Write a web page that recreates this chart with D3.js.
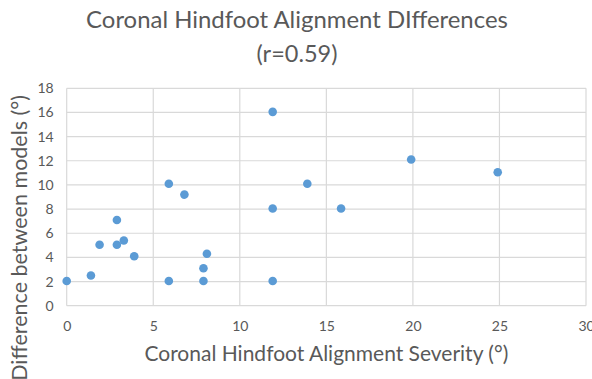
<!DOCTYPE html>
<html>
<head>
<meta charset="utf-8">
<script src="https://cdn.jsdelivr.net/npm/d3@7"></script>
<style>
  html, body { margin: 0; padding: 0; background: #fff; }
  svg { display: block; font-family: "Lato", "Open Sans", sans-serif; }
</style>
</head>
<body>
<svg id="chart" width="592" height="379"></svg>
<script>
// Coronal hindfoot alignment severity (deg) vs. difference between models (deg)
const severity   = [0, 1.4, 1.9, 2.9, 2.9, 3.3, 3.9, 5.9, 5.9, 6.8, 7.9, 7.9, 8.1, 11.9, 11.9, 11.9, 13.9, 15.85, 19.9, 24.9];
const difference = [2.05, 2.5, 5.05, 7.1, 5.05, 5.4, 4.1, 10.1, 2.05, 9.2, 3.1, 2.05, 4.3, 16.05, 8.05, 2.05, 10.1, 8.05, 12.1, 11.05];
const xTicks = [0, 5, 10, 15, 20, 25, 30];
const yTicks = [0, 2, 4, 6, 8, 10, 12, 14, 16, 18];
const titleLines = ["Coronal Hindfoot Alignment DIfferences", "(r=0.59)"];
const xTitle = "Coronal Hindfoot Alignment Severity (°)";
const yTitle = "Difference between models (°)";

const points = severity.map((s, i) => ({ x: s, y: difference[i] }));

const svg = d3.select("#chart");
const plot = { left: 66.7, right: 586, top: 88.3, bottom: 305.7 };
const textColor = "#595959";
const gridColor = "#d9d9d9";

const x = d3.scaleLinear().domain([0, 30]).range([plot.left, plot.right]);
const y = d3.scaleLinear().domain([0, 18]).range([plot.bottom, plot.top]);

// scale a text element's font so it spans the given width
function fitWidth(sel, width, base) {
  sel.attr("font-size", base);
  const w = sel.node().getComputedTextLength();
  sel.attr("font-size", base * width / w);
}

// gridlines
svg.append("g")
  .selectAll("line.v")
  .data(xTicks)
  .join("line")
  .attr("x1", d => x(d)).attr("x2", d => x(d))
  .attr("y1", plot.top).attr("y2", plot.bottom)
  .attr("stroke", gridColor).attr("stroke-width", 1.2);

svg.append("g")
  .selectAll("line.h")
  .data(yTicks)
  .join("line")
  .attr("x1", plot.left).attr("x2", plot.right)
  .attr("y1", d => y(d)).attr("y2", d => y(d))
  .attr("stroke", gridColor).attr("stroke-width", 1.2);

// axes (labels only; domain and tick marks hidden)
const xAxis = d3.axisBottom(x).tickValues(xTicks).tickSize(0).tickPadding(15);
const yAxis = d3.axisLeft(y).tickValues(yTicks).tickSize(0).tickPadding(13);

const gx = svg.append("g").attr("transform", `translate(0,${plot.bottom})`).call(xAxis);
const gy = svg.append("g").attr("transform", `translate(${plot.left},0)`).call(yAxis);
[gx, gy].forEach(g => {
  g.select(".domain").remove();
  g.selectAll("text")
    .attr("fill", textColor)
    .attr("font-family", "Lato, sans-serif")
    .attr("font-size", 14);
});

// points
svg.append("g")
  .selectAll("circle")
  .data(points)
  .join("circle")
  .attr("cx", d => x(d.x))
  .attr("cy", d => y(d.y))
  .attr("r", 4.3)
  .attr("fill", "#5b9bd5");

// chart title
const t1 = svg.append("text")
  .attr("x", 297).attr("y", 28)
  .attr("text-anchor", "middle")
  .attr("fill", textColor)
  .text(titleLines[0]);
fitWidth(t1, 422, 22);

const t2 = svg.append("text")
  .attr("x", 297).attr("y", 62)
  .attr("text-anchor", "middle")
  .attr("fill", textColor)
  .text(titleLines[1]);
fitWidth(t2, 81, 22);

// axis titles
const xt = svg.append("text")
  .attr("x", (plot.left + plot.right) / 2).attr("y", 361)
  .attr("text-anchor", "middle")
  .attr("fill", textColor)
  .text(xTitle);
fitWidth(xt, 364, 19);

const yt = svg.append("text")
  .attr("transform", "translate(27,95) rotate(-90)")
  .attr("text-anchor", "end")
  .attr("fill", textColor)
  .text(yTitle);
fitWidth(yt, 286, 19);
</script>
</body>
</html>
